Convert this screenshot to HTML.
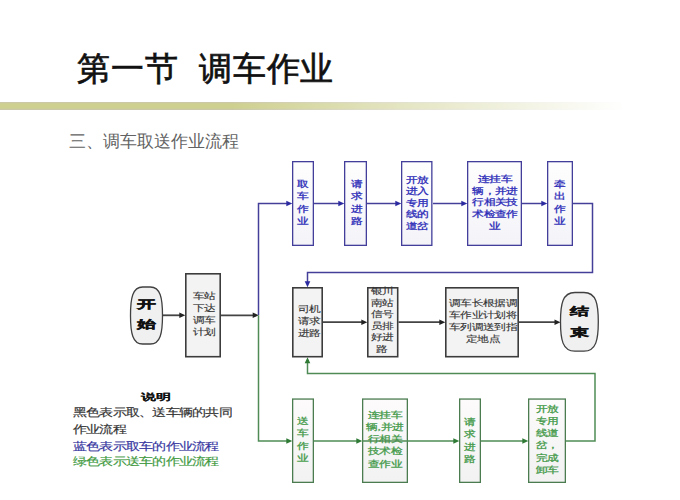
<!DOCTYPE html>
<html><head><meta charset="utf-8">
<style>
html,body{margin:0;padding:0;background:#fff;}
body{width:680px;height:500px;position:relative;overflow:hidden;font-family:"Liberation Sans",sans-serif;}
.a{position:absolute;}
.t{text-align:center;white-space:nowrap;font-family:"Liberation Serif",serif;-webkit-text-stroke:0.35px currentColor;}
.title{font-size:33px;color:#111;line-height:33px;white-space:nowrap;letter-spacing:0.8px;-webkit-text-stroke:0.7px #111;}
.bar{left:0;top:102px;width:680px;height:8px;background:linear-gradient(to right,rgba(255,255,255,0) 0px,rgba(255,255,255,0) 230px,rgba(255,255,255,0.45) 400px,rgba(255,255,255,1) 625px),linear-gradient(to bottom,#c9c6ac 0px,#ced08f 2px,#ced08f 6px,#c9c6ac 8px);}
.sub{left:69px;top:133px;font-size:17px;line-height:17px;color:#626262;white-space:nowrap;font-family:"Liberation Serif",serif;}
</style></head><body>
<div class="a title" style="left:77px;top:52px;">第一节</div>
<div class="a title" style="left:199px;top:52px;">调车作业</div>
<div class="a bar"></div>
<div class="a sub">三、调车取送作业流程</div>
<svg class="a" style="left:0;top:0" width="680" height="500" viewBox="0 0 680 500"><defs><linearGradient id="gbl" x1="0" y1="0" x2="0" y2="1"><stop offset="0" stop-color="#fefefe"/><stop offset="1" stop-color="#f4f3f8"/></linearGradient><linearGradient id="ggr" x1="0" y1="0" x2="0" y2="1"><stop offset="0" stop-color="#fdfbfb"/><stop offset="1" stop-color="#f2f2f2"/></linearGradient></defs><g stroke="#44409a" stroke-width="1.5" fill="none"><path d="M258.5,315 V203.5 H288"/><path d="M314,203.5 H340"/><path d="M367,203.5 H397"/><path d="M433,203.5 H463"/><path d="M522,203.5 H543"/><path d="M573,203.5 H592.5 V272.5 H307.5 V283"/></g><path d="M286.3,200.7 L292.3,203.5 L286.3,206.3z" fill="#2c2aa0"/><path d="M338.3,200.7 L344.3,203.5 L338.3,206.3z" fill="#2c2aa0"/><path d="M395.3,200.7 L401.3,203.5 L395.3,206.3z" fill="#2c2aa0"/><path d="M461.3,200.7 L467.3,203.5 L461.3,206.3z" fill="#2c2aa0"/><path d="M541.3,200.7 L547.3,203.5 L541.3,206.3z" fill="#2c2aa0"/><path d="M304.7,281.3 L307.5,287.3 L310.3,281.3z" fill="#2c2aa0"/><g stroke="#444444" stroke-width="1.8" fill="none"><path d="M162.5,315.3 H181"/><path d="M221,315.3 H254"/><path d="M323,322.2 H363"/><path d="M398.5,322.2 H441"/><path d="M519,322.2 H556"/></g><path d="M179.3,312.5 L185.3,315.3 L179.3,318.1z" fill="#222222"/><path d="M252.7,312.5 L258.7,315.3 L252.7,318.1z" fill="#222222"/><path d="M361.3,319.4 L367.3,322.2 L361.3,325.0z" fill="#222222"/><path d="M439.3,319.4 L445.3,322.2 L439.3,325.0z" fill="#222222"/><path d="M554.5,319.4 L560.5,322.2 L554.5,325.0z" fill="#222222"/><g stroke="#4f8c55" stroke-width="1.5" fill="none"><path d="M258.5,315.3 V441 H288"/><path d="M314,441 H358"/><path d="M481,441 H524"/><path d="M566,441 H595 V373.5 H307.5 V361"/></g><path d="M286.3,438.2 L292.3,441 L286.3,443.8z" fill="#2f7a35"/><path d="M356.3,438.2 L362.3,441 L356.3,443.8z" fill="#2f7a35"/><path d="M304.7,363.3 L307.5,357.3 L310.3,363.3z" fill="#2f7a35"/><path d="M522.3,438.2 L528.3,441 L522.3,443.8z" fill="#2f7a35"/><path d="M142.66,287 L150.34,287 C160.5,287 162.5,298.4 162.5,315.5 C162.5,332.6 160.5,344 150.34,344 L142.66,344 C132.5,344 130.5,332.6 130.5,315.5 C130.5,298.4 132.5,287 142.66,287 Z" fill="#f0f0f0" stroke="#404040" stroke-width="1.3"/><path d="M574.864,292.5 L583.9359999999999,292.5 C596.3,292.5 598.3,304.24 598.3,321.85 C598.3,339.46 596.3,351.2 583.9359999999999,351.2 L574.864,351.2 C562.5,351.2 560.5,339.46 560.5,321.85 C560.5,304.24 562.5,292.5 574.864,292.5 Z" fill="#f0f0f0" stroke="#404040" stroke-width="1.3"/><rect x="292.65" y="161.65" width="20.7" height="83.7" fill="url(#gbl)" stroke="#423e9a" stroke-width="1.3"/><rect x="344.65" y="161.65" width="21.7" height="83.7" fill="url(#gbl)" stroke="#423e9a" stroke-width="1.3"/><rect x="401.65" y="161.65" width="30.2" height="83.7" fill="url(#gbl)" stroke="#423e9a" stroke-width="1.3"/><rect x="467.65" y="161.65" width="53.7" height="83.7" fill="url(#gbl)" stroke="#423e9a" stroke-width="1.3"/><rect x="547.65" y="161.65" width="24.7" height="83.7" fill="url(#gbl)" stroke="#423e9a" stroke-width="1.3"/><rect x="185.8" y="273.8" width="34.4" height="82.9" fill="#f3f3f3" stroke="#3c3c3c" stroke-width="1.6"/><rect x="292.8" y="287.8" width="29.4" height="68.9" fill="#f3f3f3" stroke="#3c3c3c" stroke-width="1.6"/><rect x="367.8" y="287.8" width="29.9" height="68.9" fill="#f3f3f3" stroke="#3c3c3c" stroke-width="1.6"/><rect x="445.8" y="287.8" width="72.4" height="68.9" fill="#f3f3f3" stroke="#3c3c3c" stroke-width="1.6"/><rect x="292.65" y="399.04999999999995" width="20.7" height="83.30000000000003" fill="url(#ggr)" stroke="#4a7c50" stroke-width="1.3"/><rect x="362.65" y="399.04999999999995" width="44.7" height="83.30000000000003" fill="url(#ggr)" stroke="#4a7c50" stroke-width="1.3"/><rect x="459.65" y="399.04999999999995" width="20.7" height="83.30000000000003" fill="url(#ggr)" stroke="#4a7c50" stroke-width="1.3"/><rect x="528.65" y="399.04999999999995" width="36.7" height="83.30000000000003" fill="url(#ggr)" stroke="#4a7c50" stroke-width="1.3"/></svg>
<div class="a t" style="left:242.70px;top:178.25px;width:120px;font-size:11px;line-height:15.375px;color:#2c2cb8;-webkit-text-stroke:0.35px currentColor;transform:scale(1.04,0.8);transform-origin:50% 0;">取<br>车<br>作<br>业</div>
<div class="a t" style="left:296.50px;top:178.25px;width:120px;font-size:11px;line-height:15.375px;color:#2c2cb8;-webkit-text-stroke:0.35px currentColor;transform:scale(1.04,0.8);transform-origin:50% 0;">请<br>求<br>进<br>路</div>
<div class="a t" style="left:356.60px;top:173.65px;width:120px;font-size:11px;line-height:14.375px;color:#2c2cb8;-webkit-text-stroke:0.35px currentColor;transform:scale(1.04,0.8);transform-origin:50% 0;">开放<br>进入<br>专用<br>线的<br>道岔</div>
<div class="a t" style="left:434.50px;top:173.15px;width:120px;font-size:11px;line-height:14.625px;color:#2c2cb8;-webkit-text-stroke:0.35px currentColor;transform:scale(1.04,0.8);transform-origin:50% 0;">连挂车<br>辆，并进<br>行相关技<br>术检查作<br>业</div>
<div class="a t" style="left:500.20px;top:178.25px;width:120px;font-size:11px;line-height:15.375px;color:#2c2cb8;-webkit-text-stroke:0.35px currentColor;transform:scale(1.04,0.8);transform-origin:50% 0;">牵<br>出<br>作<br>业</div>
<div class="a t" style="left:143.60px;top:289.95px;width:120px;font-size:11px;line-height:14.875px;color:#333333;-webkit-text-stroke:0.15px currentColor;transform:scale(1.04,0.8);transform-origin:50% 0;">车站<br>下达<br>调车<br>计划</div>
<div class="a t" style="left:248.70px;top:303.30px;width:120px;font-size:11px;line-height:14.750px;color:#333333;-webkit-text-stroke:0.15px currentColor;transform:scale(1.04,0.8);transform-origin:50% 0;">司机<br>请求<br>进路</div>
<div class="a t" style="left:321.90px;top:285.40px;width:120px;font-size:11px;line-height:14.500px;color:#333333;-webkit-text-stroke:0.15px currentColor;transform:scale(1.04,0.8);transform-origin:50% 0;">银川<br>南站<br>信号<br>员排<br>好进<br>路</div>
<div class="a t" style="left:422.70px;top:296.95px;width:120px;font-size:11px;line-height:14.875px;color:#333333;-webkit-text-stroke:0.15px currentColor;transform:scale(1.04,0.8);transform-origin:50% 0;">调车长根据调<br>车作业计划将<br>车列调送到指<br>定地点</div>
<div class="a t" style="left:243.20px;top:415.25px;width:120px;font-size:11px;line-height:15.375px;color:#449a4a;-webkit-text-stroke:0.35px currentColor;transform:scale(1.04,0.8);transform-origin:50% 0;">送<br>车<br>作<br>业</div>
<div class="a t" style="left:325.20px;top:409.35px;width:120px;font-size:11px;line-height:15.125px;color:#449a4a;-webkit-text-stroke:0.35px currentColor;transform:scale(1.04,0.8);transform-origin:50% 0;">连挂车<br>辆,并进<br>行相关<br>技术检<br>查作业</div>
<div class="a t" style="left:410.00px;top:416.25px;width:120px;font-size:11px;line-height:15.375px;color:#449a4a;-webkit-text-stroke:0.35px currentColor;transform:scale(1.04,0.8);transform-origin:50% 0;">请<br>求<br>进<br>路</div>
<div class="a t" style="left:487.00px;top:403.35px;width:120px;font-size:11px;line-height:15.125px;color:#449a4a;-webkit-text-stroke:0.35px currentColor;transform:scale(1.04,0.8);transform-origin:50% 0;">开放<br>专用<br>线道<br>岔，<br>完成<br>卸车</div>
<svg class="a" style="left:0;top:0" width="680" height="500" viewBox="0 0 680 500"><path d="M362,441 H455" stroke="#4f8c55" stroke-width="1.5" fill="none"/><path d="M453.3,438.2 L459.3,441 L453.3,443.8z" fill="#2f7a35"/></svg>
<div class="a" style="left:96.20px;top:294.36px;width:100px;text-align:center;white-space:nowrap;font-size:19px;line-height:35.000px;transform:scale(1.0,0.58);transform-origin:50% 0;font-family:'Liberation Sans',sans-serif;font-weight:bold;color:#111;-webkit-text-stroke:0.7px #111;">开<br>始</div>
<div class="a" style="left:529.00px;top:300.71px;width:100px;text-align:center;white-space:nowrap;font-size:19px;line-height:35.862px;transform:scale(1.0,0.58);transform-origin:50% 0;font-family:'Liberation Sans',sans-serif;font-weight:bold;color:#111;-webkit-text-stroke:0.7px #111;">结<br>束</div>
<div class="a" style="left:141px;top:392.20px;white-space:nowrap;font-size:15px;line-height:15px;transform:scale(1.0,0.6);transform-origin:0 0;font-family:'Liberation Sans',sans-serif;font-weight:bold;color:#111;-webkit-text-stroke:0.15px #111;">说明</div>
<div class="a" style="left:73.3px;top:406.50px;white-space:nowrap;font-size:13.4px;line-height:13.4px;transform:scale(1.018,0.8);transform-origin:0 0;font-family:'Liberation Serif',serif;-webkit-text-stroke:0.2px currentColor;color:#333;">黑色表示取、送车辆的共同</div>
<div class="a" style="left:73.3px;top:424.30px;white-space:nowrap;font-size:13.4px;line-height:13.4px;transform:scale(1.018,0.8);transform-origin:0 0;font-family:'Liberation Serif',serif;-webkit-text-stroke:0.2px currentColor;color:#333;">作业流程</div>
<div class="a" style="left:73.3px;top:441.20px;white-space:nowrap;font-size:13.4px;line-height:13.4px;transform:scale(1.018,0.8);transform-origin:0 0;font-family:'Liberation Serif',serif;-webkit-text-stroke:0.2px currentColor;color:#3535a0;">蓝色表示取车的作业流程</div>
<div class="a" style="left:73.3px;top:455.70px;white-space:nowrap;font-size:13.4px;line-height:13.4px;transform:scale(1.018,0.8);transform-origin:0 0;font-family:'Liberation Serif',serif;-webkit-text-stroke:0.2px currentColor;color:#3f9a3f;">绿色表示送车的作业流程</div>
</body></html>
